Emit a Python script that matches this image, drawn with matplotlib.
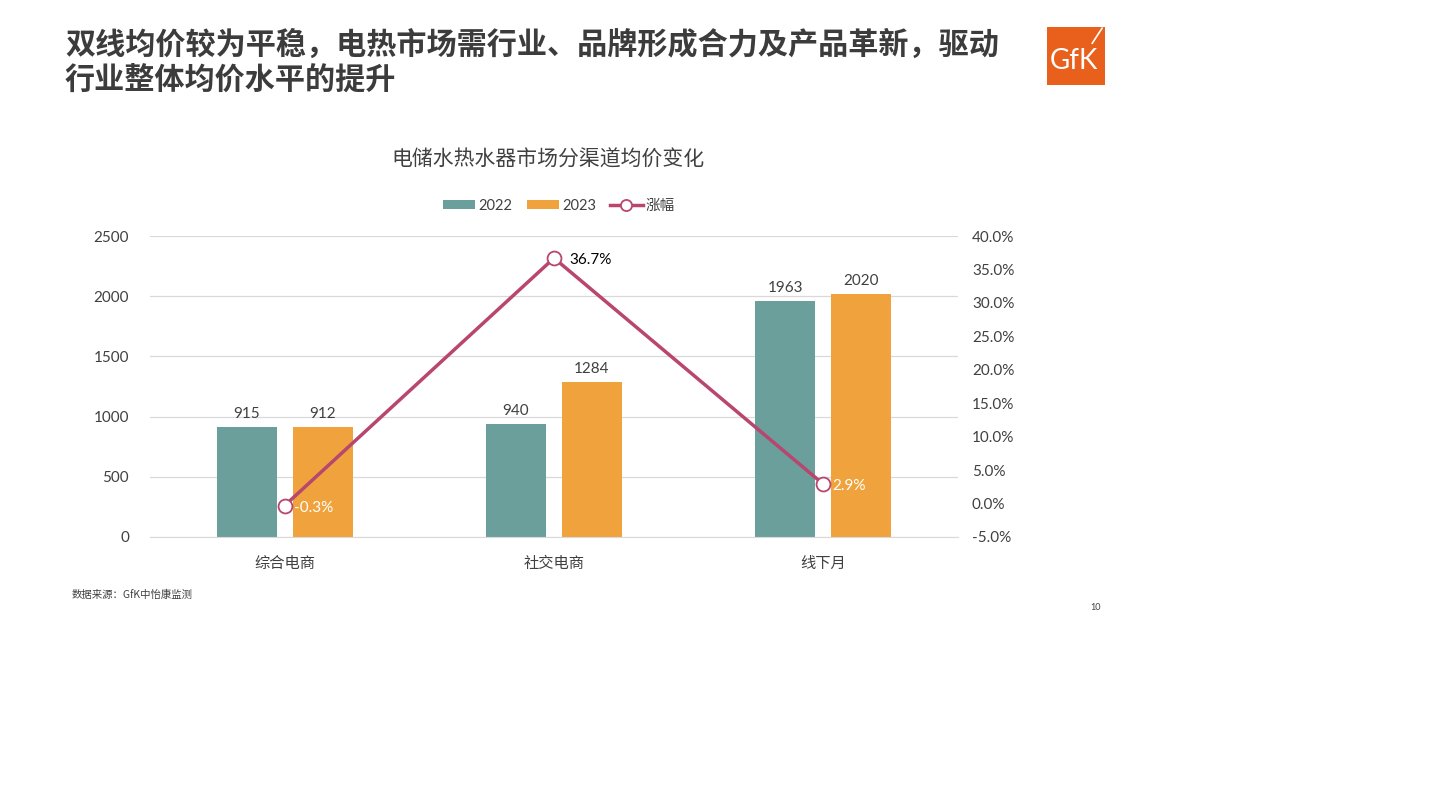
import matplotlib
matplotlib.use("Agg")
import matplotlib.pyplot as plt
from matplotlib.patches import Rectangle
import numpy as np

plt.rcParams['font.family'] = ['Lato', 'Noto Sans CJK SC', 'DejaVu Sans']

categories = ['综合电商', '社交电商', '线下月']
values_2022 = [915, 940, 1963]
values_2023 = [912, 1284, 2020]
growth = [-0.3, 36.7, 2.9]
growth_labels = ['-0.3%', '36.7%', '2.9%']
growth_label_colors = ['white', 'black', 'white']
left_ticks = [0, 500, 1000, 1500, 2000, 2500]
right_ticks = [-5, 0, 5, 10, 15, 20, 25, 30, 35, 40]

teal = '#6A9F9B'
orange = '#F0A33C'
line_c = '#B8466F'
text_c = '#404040'

fig = plt.figure(figsize=(14.41, 8.10), dpi=100)

# Heading
fig.text(65/1441, 1-45/810, '双线均价较为平稳，电热市场需行业、品牌形成合力及产品革新，驱动',
         fontsize=21.7, fontweight='bold', color='#3C3C3C', va='center', ha='left',
         family=['Noto Sans CJK SC', 'DejaVu Sans'])
fig.text(65/1441, 1-80/810, '行业整体均价水平的提升',
         fontsize=21.7, fontweight='bold', color='#3C3C3C', va='center', ha='left',
         family=['Noto Sans CJK SC', 'DejaVu Sans'])

# Logo
logo = fig.add_axes([1047/1441, 1-85/810, 58/1441, 58/810])
logo.add_patch(Rectangle((0, 0), 1, 1, color='#E8601C'))
logo.text(0.47, 0.42, 'GfK', color='white', fontsize=20, ha='center', va='center',
          family=['Lato', 'DejaVu Sans'])
logo.plot([0.78, 0.95], [0.72, 0.98], color='white', lw=1.2)
logo.set_xlim(0, 1); logo.set_ylim(0, 1); logo.axis('off')

# Chart
ax = fig.add_axes([150/1441, 1-537/810, 808/1441, 301/810])
x = np.arange(len(categories))
w = 0.223
off = 0.141
b1 = ax.bar(x - off, values_2022, w, color=teal, label='2022', zorder=2)
b2 = ax.bar(x + off, values_2023, w, color=orange, label='2023', zorder=2)
for xi, v in zip(x - off, values_2022):
    ax.text(xi, v + 50, str(v), ha='center', va='bottom', fontsize=11, color=text_c)
for xi, v in zip(x + off, values_2023):
    ax.text(xi, v + 50, str(v), ha='center', va='bottom', fontsize=11, color=text_c)

ax.set_xlim(-0.5, 2.5)
ax.set_ylim(0, 2500)
ax.set_yticks(left_ticks)
ax.set_yticklabels([str(t) for t in left_ticks])
ax.set_xticks(x)
ax.set_xticklabels(categories, family=['Noto Sans CJK SC', 'DejaVu Sans'])
ax.grid(axis='y', color='#D9D9D9', lw=0.9, zorder=0)
ax.set_axisbelow(True)
for s in ['top', 'right', 'left']:
    ax.spines[s].set_visible(False)
ax.spines['bottom'].set_color('#D9D9D9')
ax.tick_params(axis='both', length=0, labelsize=11, colors=text_c)
ax.tick_params(axis='x', pad=13)
ax.tick_params(axis='y', pad=15)

ax2 = ax.twinx()
ax2.set_ylim(-5, 40)
ax2.set_yticks(right_ticks)
ax2.set_yticklabels([f'{t:.1f}%' for t in right_ticks])
ln, = ax2.plot(x, growth, color=line_c, lw=2.5, marker='o', markersize=10,
               markerfacecolor='white', markeredgecolor=line_c, markeredgewidth=1.3,
               label='涨幅', zorder=5)
for xi, g, lab, c in zip(x, growth, growth_labels, growth_label_colors):
    dx = 0.035 if c == 'white' else 0.058
    ax2.text(xi + dx, g - 0.3, lab, ha='left', va='center', fontsize=11, color=c, zorder=6)
for s in ['top', 'right', 'left', 'bottom']:
    ax2.spines[s].set_visible(False)
ax2.tick_params(axis='y', length=0, labelsize=11, colors=text_c, pad=10)

# Title
fig.text(548/1441, 1-160/810, '电储水热水器市场分渠道均价变化', fontsize=15, color=text_c,
         ha='center', va='center', family=['Noto Sans CJK SC', 'DejaVu Sans'])

# Legend
fig.legend(handles=[b1, b2, ln], labels=['2022', '2023', '涨幅'],
           loc='center', bbox_to_anchor=(559/1441, 1-206/810), ncol=3, frameon=False,
           handlelength=2.2, handleheight=0.6, handletextpad=0.2, columnspacing=1.0,
           labelcolor=text_c, prop={'family': ['Lato', 'Noto Sans CJK SC'], 'size': 10.5},
           markerscale=0.8)

# Footer
fig.text(72/1441, 1-595/810, '数据来源：GfK中怡康监测', fontsize=7.5, color=text_c,
         ha='left', va='center', family=['Noto Sans CJK SC', 'DejaVu Sans'])
fig.text(1096/1441, 1-607/810, '10', fontsize=6.5, color=text_c, ha='center', va='center')

fig.savefig('out.png', dpi=100, facecolor='white')
